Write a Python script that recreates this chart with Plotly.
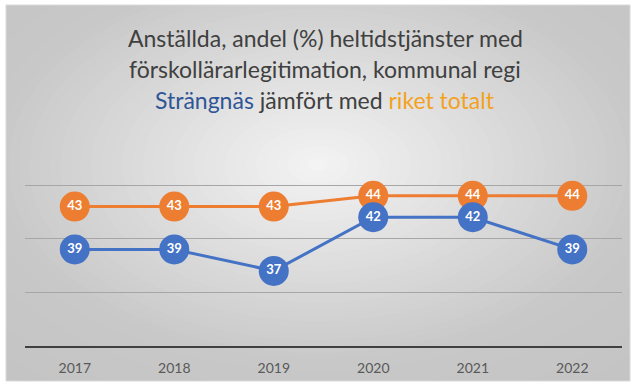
import plotly.graph_objects as go

# Data
years = ["2017", "2018", "2019", "2020", "2021", "2022"]
strangnas = [39, 39, 37, 42, 42, 39]
riket = [43, 43, 43, 44, 44, 44]

W, H = 633, 383
BLUE = "#4472C4"
ORANGE = "#ED7D31"
FONT = "Lato"


def px_x(x):
    return x / W


def px_y(y):
    return 1 - y / H


fig = go.Figure()

fig.add_trace(go.Scatter(
    x=years, y=riket, name="riket totalt",
    mode="lines+markers+text", text=[str(v) for v in riket],
    textposition="middle center",
    textfont=dict(family=FONT, size=13, color="white", weight="bold"),
    line=dict(color=ORANGE, width=3),
    marker=dict(size=30, color=ORANGE, line=dict(width=0)),
    cliponaxis=False,
))
fig.add_trace(go.Scatter(
    x=years, y=strangnas, name="Strängnäs",
    mode="lines+markers+text", text=[str(v) for v in strangnas],
    textposition="middle center",
    textfont=dict(family=FONT, size=13, color="white", weight="bold"),
    line=dict(color=BLUE, width=3),
    marker=dict(size=30, color=BLUE, line=dict(width=0)),
    cliponaxis=False,
))

# Radial background: concentric ellipses from dark edge to light centre
shapes = []
cx, cy = 318, 165
rx, ry = 330, 200
N = 48
dmax = 1.5
for k in range(N, 0, -1):
    d = dmax * k / N
    g = int(round(244 - 44 * min(d, 1.0) - 10 * max(0.0, min(d, 1.5) - 1.0)))
    col = f"rgb({g},{g},{g})"
    shapes.append(dict(
        type="circle", xref="paper", yref="paper", layer="below",
        x0=px_x(cx - rx * d), x1=px_x(cx + rx * d),
        y0=px_y(cy + ry * d), y1=px_y(cy - ry * d),
        fillcolor=col, line=dict(width=0),
    ))

# White surround outside the chart frame
for (x0, y0, x1, y1) in [(0, 0, 6, H), (0, 0, W, 5), (630, 0, W, H), (0, 381, W, H)]:
    shapes.append(dict(
        type="rect", xref="paper", yref="paper", layer="below",
        x0=px_x(x0), x1=px_x(x1), y0=px_y(y1), y1=px_y(y0),
        fillcolor="white", line=dict(width=0),
    ))
shapes.append(dict(
    type="rect", xref="paper", yref="paper", layer="below",
    x0=px_x(6), x1=px_x(630), y0=px_y(381), y1=px_y(5),
    fillcolor="rgba(0,0,0,0)", line=dict(width=1, color="#d9d9d9"),
))

title_lines = [
    (38, "Anställda, andel (%) heltidstjänster med"),
    (69, "förskollärarlegitimation, kommunal regi"),
    (100, "<span style='color:#2F5597'>Strängnäs</span> jämfört med "
          "<span style='color:#F4A11E'>riket totalt</span>"),
]
annotations = [
    dict(text=t, x=px_x(325), y=px_y(y), xref="paper", yref="paper",
         xanchor="center", yanchor="middle", showarrow=False,
         font=dict(family=FONT, size=23, color="#404040"))
    for y, t in title_lines
]

fig.update_layout(
    width=W, height=H,
    margin=dict(l=0, r=0, t=0, b=0),
    paper_bgcolor="white",
    plot_bgcolor="rgba(0,0,0,0)",
    showlegend=False,
    shapes=shapes,
    annotations=annotations,
    xaxis=dict(
        domain=[px_x(25), px_x(622)],
        type="category", range=[-0.5, 5.5],
        showgrid=False, zeroline=False,
        showline=True, linecolor="#404040", linewidth=2,
        ticks="", ticklabelstandoff=8,
        tickfont=dict(family=FONT, size=14, color="#595959"),
        automargin=False, fixedrange=True,
    ),
    yaxis=dict(
        domain=[px_y(346), px_y(184)],
        range=[30, 45.1], tickvals=[35, 40, 45],
        showticklabels=False, zeroline=False,
        showgrid=True, gridcolor="#a6a6a6", gridwidth=1,
        showline=False, automargin=False, fixedrange=True,
    ),
)

fig.write_html("out.html")
